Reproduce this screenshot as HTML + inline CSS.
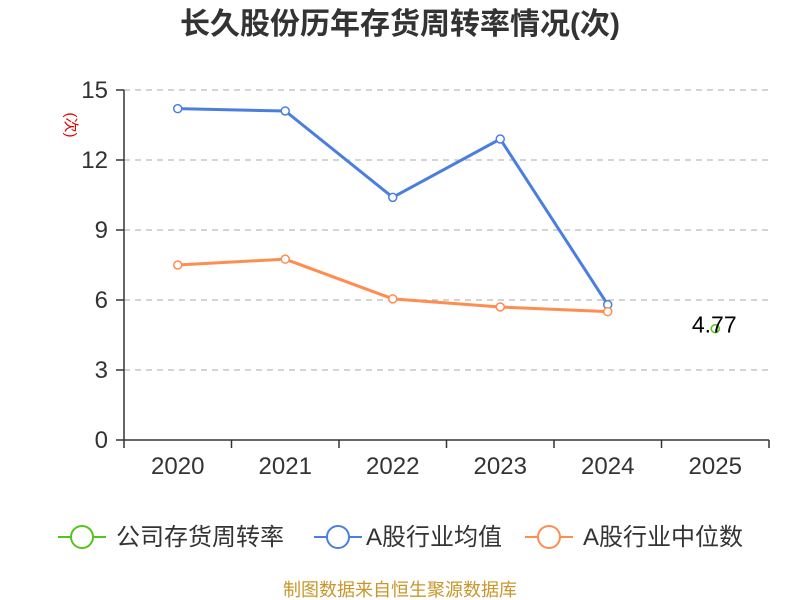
<!DOCTYPE html>
<html><head><meta charset="utf-8">
<style>
body{margin:0;background:#fff;}
svg{display:block;font-family:"Liberation Sans","Noto Sans CJK SC",sans-serif;}
</style></head>
<body>
<svg id="chart" width="800" height="600" viewBox="0 0 800 600">
<text x="400" y="34" text-anchor="middle" font-size="30" font-weight="bold" fill="#333">长久股份历年存货周转率情况(次)</text>
<text transform="translate(66,125) rotate(90)" text-anchor="middle" font-size="15" fill="#e00000">(次)</text>
<g id="grid"></g>
<g id="axes"></g>
<g id="series"></g>
<g>
 <g>
  <line x1="58" y1="537" x2="106" y2="537" stroke="#52c41a" stroke-width="2"/>
  <circle cx="82" cy="537" r="11" fill="#fff" stroke="#52c41a" stroke-width="2"/>
  <text x="116" y="545" font-size="24" fill="#333">公司存货周转率</text>
 </g>
 <g>
  <line x1="314" y1="537" x2="362" y2="537" stroke="#4a7fe0" stroke-width="2"/>
  <circle cx="338" cy="537" r="11" fill="#fff" stroke="#4a7fe0" stroke-width="2"/>
  <text x="366" y="545" font-size="24" fill="#333">A股行业均值</text>
 </g>
 <g>
  <line x1="525" y1="537" x2="573" y2="537" stroke="#ff8c50" stroke-width="2"/>
  <circle cx="549" cy="537" r="11" fill="#fff" stroke="#ff8c50" stroke-width="2"/>
  <text x="583" y="545" font-size="24" fill="#333">A股行业中位数</text>
 </g>
</g>
<text x="400" y="596" text-anchor="middle" font-size="18" fill="#c8962a">制图数据来自恒生聚源数据库</text>
</svg>
<script>
const categories=["2020","2021","2022","2023","2024","2025"];
const companyValues=[null,null,null,null,null,4.77];
const meanValues=[14.2,14.1,10.4,12.9,5.8,null];
const medianValues=[7.5,7.75,6.05,5.7,5.5,null];
const yTicks=[0,3,6,9,12,15];
const NS="http://www.w3.org/2000/svg";
const L=124,R=769,T=90,B=440,yMax=15;
const bw=(R-L)/categories.length;
const xS=i=>L+bw*(i+0.5);
const yS=v=>B-(v/yMax)*(B-T);
function mk(tag,attrs,parent){const e=document.createElementNS(NS,tag);for(const k in attrs)e.setAttribute(k,attrs[k]);parent.appendChild(e);return e;}
const grid=document.getElementById('grid'),axes=document.getElementById('axes'),ser=document.getElementById('series');
yTicks.forEach(t=>{
 const y=yS(t);
 if(t>0){const g=mk('line',{x1:L,x2:R,y1:y,y2:y,stroke:'#bbbbbb','stroke-width':1.3,'stroke-dasharray':'6,5'},grid);
 
 }
 mk('line',{x1:116,x2:L,y1:y,y2:y,stroke:'#333','stroke-width':1.5},axes);
 const tx=mk('text',{x:108,y:y+8,'text-anchor':'end','font-size':24,fill:'#333'},axes);
 tx.textContent=t;
 
 
});
const ya=mk('line',{x1:L,x2:L,y1:T,y2:B,stroke:'#333','stroke-width':1.5},axes);


const xa=mk('line',{x1:L,x2:R,y1:B,y2:B,stroke:'#333','stroke-width':1.5},axes);


for(let i=0;i<=categories.length;i++){const x=L+bw*i;mk('line',{x1:x,x2:x,y1:B,y2:B+8,stroke:'#333','stroke-width':1.5},axes);}
categories.forEach((c,i)=>{
 const tx=mk('text',{x:xS(i),y:474,'text-anchor':'middle','font-size':24,fill:'#333'},axes);
 tx.textContent=c;
 
 
});
function series(vals,color,name){
 const pts=[];vals.forEach((v,i)=>{if(v!=null)pts.push([xS(i),yS(v)]);});
 if(pts.length>1){const p=mk('polyline',{points:pts.map(p=>p.join(',')).join(' '),fill:'none',stroke:color,'stroke-width':3},ser);
 
 }
 vals.forEach((v,i)=>{if(v==null)return;
  const c=mk('circle',{cx:xS(i),cy:yS(v),r:4,fill:'#fff',stroke:color,'stroke-width':1.5},ser);
  
  });
}
series(meanValues,'#4a7fe0','industry-mean');
series(medianValues,'#ff8c50','industry-median');
series(companyValues,'#52c41a','company');
companyValues.forEach((v,i)=>{if(v==null)return;
 const t=mk('text',{x:xS(i)-1,y:yS(v)+4,'text-anchor':'middle','font-size':23,fill:'#000'},ser);
 t.textContent=v;
 
 });
</script>
</body></html>
